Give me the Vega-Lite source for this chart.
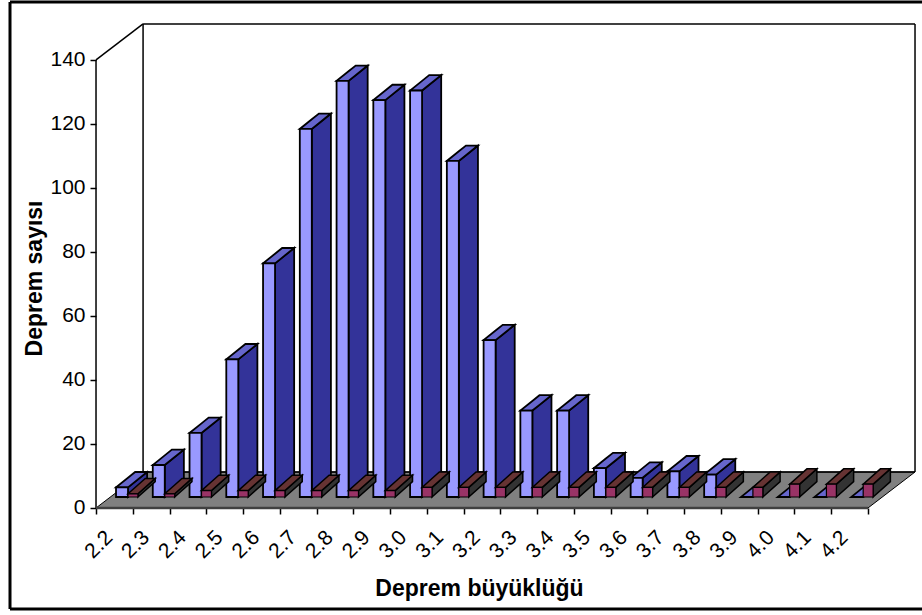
{
  "$schema": "https://vega.github.io/schema/vega-lite/v6.json",
  "width": 912,
  "height": 607,
  "autosize": "none",
  "padding": {"left": 10, "top": 2, "right": 0, "bottom": 6},
  "background": "white",
  "view": {"stroke": null},
  "config": {"font": "Liberation Sans"},
  "data": {"values": [
    {"sira": 0, "buyukluk": "2.2", "seri": "A", "sayi": 3},
    {"sira": 1, "buyukluk": "2.3", "seri": "A", "sayi": 10},
    {"sira": 2, "buyukluk": "2.4", "seri": "A", "sayi": 20},
    {"sira": 3, "buyukluk": "2.5", "seri": "A", "sayi": 43},
    {"sira": 4, "buyukluk": "2.6", "seri": "A", "sayi": 73},
    {"sira": 5, "buyukluk": "2.7", "seri": "A", "sayi": 115},
    {"sira": 6, "buyukluk": "2.8", "seri": "A", "sayi": 130},
    {"sira": 7, "buyukluk": "2.9", "seri": "A", "sayi": 124},
    {"sira": 8, "buyukluk": "3.0", "seri": "A", "sayi": 127},
    {"sira": 9, "buyukluk": "3.1", "seri": "A", "sayi": 105},
    {"sira": 10, "buyukluk": "3.2", "seri": "A", "sayi": 49},
    {"sira": 11, "buyukluk": "3.3", "seri": "A", "sayi": 27},
    {"sira": 12, "buyukluk": "3.4", "seri": "A", "sayi": 27},
    {"sira": 13, "buyukluk": "3.5", "seri": "A", "sayi": 9},
    {"sira": 14, "buyukluk": "3.6", "seri": "A", "sayi": 6},
    {"sira": 15, "buyukluk": "3.7", "seri": "A", "sayi": 8},
    {"sira": 16, "buyukluk": "3.8", "seri": "A", "sayi": 7},
    {"sira": 17, "buyukluk": "3.9", "seri": "A", "sayi": 0},
    {"sira": 18, "buyukluk": "4.0", "seri": "A", "sayi": 0},
    {"sira": 19, "buyukluk": "4.1", "seri": "A", "sayi": 0},
    {"sira": 20, "buyukluk": "4.2", "seri": "A", "sayi": 0},
    {"sira": 0, "buyukluk": "2.2", "seri": "B", "sayi": 1},
    {"sira": 1, "buyukluk": "2.3", "seri": "B", "sayi": 1},
    {"sira": 2, "buyukluk": "2.4", "seri": "B", "sayi": 2},
    {"sira": 3, "buyukluk": "2.5", "seri": "B", "sayi": 2},
    {"sira": 4, "buyukluk": "2.6", "seri": "B", "sayi": 2},
    {"sira": 5, "buyukluk": "2.7", "seri": "B", "sayi": 2},
    {"sira": 6, "buyukluk": "2.8", "seri": "B", "sayi": 2},
    {"sira": 7, "buyukluk": "2.9", "seri": "B", "sayi": 2},
    {"sira": 8, "buyukluk": "3.0", "seri": "B", "sayi": 3},
    {"sira": 9, "buyukluk": "3.1", "seri": "B", "sayi": 3},
    {"sira": 10, "buyukluk": "3.2", "seri": "B", "sayi": 3},
    {"sira": 11, "buyukluk": "3.3", "seri": "B", "sayi": 3},
    {"sira": 12, "buyukluk": "3.4", "seri": "B", "sayi": 3},
    {"sira": 13, "buyukluk": "3.5", "seri": "B", "sayi": 3},
    {"sira": 14, "buyukluk": "3.6", "seri": "B", "sayi": 3},
    {"sira": 15, "buyukluk": "3.7", "seri": "B", "sayi": 3},
    {"sira": 16, "buyukluk": "3.8", "seri": "B", "sayi": 3},
    {"sira": 17, "buyukluk": "3.9", "seri": "B", "sayi": 3},
    {"sira": 18, "buyukluk": "4.0", "seri": "B", "sayi": 4},
    {"sira": 19, "buyukluk": "4.1", "seri": "B", "sayi": 4},
    {"sira": 20, "buyukluk": "4.2", "seri": "B", "sayi": 4}
  ]},
  "transform": [
    {"calculate": "datum.sira + (datum.seri === 'A' ? 0.544 : 0.87)", "as": "xSol"},
    {"calculate": "datum.sira + (datum.seri === 'A' ? 0.87 : 1.14)", "as": "xSag"},
    {"calculate": "datum.seri === 'A' ? 0.52 : 0.47", "as": "derinlik"},
    {"calculate": "3.44", "as": "taban"},
    {"calculate": "3.44 + datum.sayi", "as": "tepe"}
  ],
  "encoding": {
    "x": {
      "field": "x",
      "type": "quantitative",
      "scale": {"domain": [-2.34, 22.47], "nice": false, "zero": false},
      "axis": {
        "title": "Deprem büyüklüğü",
        "titleFont": "Liberation Sans",
        "titleFontSize": 23,
        "titleFontWeight": "bold",
        "titleColor": "#000000",
        "titleX": 469,
        "titleY": 69,
        "offset": -101,
        "domain": false,
        "grid": false,
        "values": [0, 1, 2, 3, 4, 5, 6, 7, 8, 9, 10, 11, 12, 13, 14, 15, 16, 17, 18, 19, 20, 21],
        "labelExpr": "datum.value < 21 ? ['2.2','2.3','2.4','2.5','2.6','2.7','2.8','2.9','3.0','3.1','3.2','3.3','3.4','3.5','3.6','3.7','3.8','3.9','4.0','4.1','4.2'][datum.value] : ''",
        "labelAngle": -45,
        "labelAlign": "right",
        "labelBaseline": "middle",
        "labelOffset": 13,
        "labelPadding": 20,
        "labelFontSize": 21,
        "labelColor": "#000000",
        "labelOverlap": false,
        "labelFlush": false,
        "labelBound": false,
        "tickSize": 6,
        "tickWidth": 1.5,
        "tickColor": "#000000"
      }
    },
    "y": {
      "field": "y",
      "type": "quantitative",
      "scale": {"domain": [-31.56, 158.1], "nice": false, "zero": false},
      "axis": {
        "title": "Deprem sayısı",
        "titleFont": "Liberation Sans",
        "titleFontSize": 23,
        "titleFontWeight": "bold",
        "titleColor": "#000000",
        "titleX": -50,
        "titleY": 276,
        "offset": -86,
        "domain": false,
        "grid": false,
        "values": [0, 20, 40, 60, 80, 100, 120, 140],
        "labelFontSize": 21,
        "labelColor": "#000000",
        "labelPadding": 5,
        "labelOverlap": false,
        "labelBound": false,
        "tickSize": 6,
        "tickWidth": 1.5,
        "tickColor": "#000000"
      }
    }
  },
  "layer": [
    {
      "description": "Floor of the 3D box",
      "data": {"values": [
        {"x": 0, "y": 0, "y2": 0},
        {"x": 1.28, "y": 0, "y2": 11.25},
        {"x": 21, "y": 0, "y2": 11.25},
        {"x": 22.28, "y": 11.25, "y2": 11.25}
      ]},
      "transform": [],
      "mark": {"type": "area", "color": "#808080", "stroke": "#000000", "strokeWidth": 1},
      "encoding": {"y2": {"field": "y2"}}
    },
    {
      "description": "Box edges and value axis line",
      "data": {"values": [
        {"x": 0, "y": 0, "x2": 0, "y2": 140},
        {"x": 0, "y": 140, "x2": 1.28, "y2": 151.25},
        {"x": 1.28, "y": 11.25, "x2": 1.28, "y2": 151.25},
        {"x": 1.28, "y": 151.25, "x2": 22.28, "y2": 151.25},
        {"x": 22.28, "y": 11.25, "x2": 22.28, "y2": 151.25},
        {"x": 1.28, "y": 11.25, "x2": 22.28, "y2": 11.25}
      ]},
      "transform": [],
      "mark": {"type": "rule", "color": "#000000", "strokeWidth": 1.5},
      "encoding": {"x2": {"field": "x2"}, "y2": {"field": "y2"}}
    },
    {
      "description": "Thick front edge of the floor",
      "data": {"values": [{"x": 0, "y": 0, "x2": 21, "y2": 0}]},
      "transform": [],
      "mark": {"type": "rule", "color": "#404040", "strokeWidth": 2.5},
      "encoding": {"x2": {"field": "x2"}, "y2": {"field": "y2"}}
    },
    {
      "description": "Outer frame of the chart",
      "data": {"values": [
        {"x": -2.34, "y": 158.1, "x2": 22.47, "y2": 158.1},
        {"x": -2.34, "y": -31.56, "x2": 22.47, "y2": -31.56},
        {"x": -2.34, "y": -31.56, "x2": -2.34, "y2": 158.1}
      ]},
      "transform": [],
      "mark": {"type": "rule", "color": "#000000", "strokeWidth": 3},
      "encoding": {"x2": {"field": "x2"}, "y2": {"field": "y2"}}
    },
    {
      "description": "Series A: side face",
      "transform": [
        {"filter": "datum.seri === 'A'"},
        {"calculate": "[0, 1]", "as": "t"},
        {"flatten": ["t"]},
        {"calculate": "datum.xSag + datum.t * datum.derinlik", "as": "x"},
        {"calculate": "datum.taban + datum.t * 4.8", "as": "y"},
        {"calculate": "datum.tepe + datum.t * 4.8", "as": "y2"}
      ],
      "mark": {"type": "area", "color": "#333399", "stroke": "#000000", "strokeWidth": 1.8},
      "encoding": {"y2": {"field": "y2"}, "detail": {"field": "sira"}}
    },
    {
      "description": "Series A: top face, split at its corners so it can be an x-ordered area",
      "transform": [
        {"filter": "datum.seri === 'A'"},
        {"calculate": "[0, 1, 2, 3]", "as": "t"},
        {"flatten": ["t"]},
        {"calculate": "[datum.xSol, min(datum.xSag, datum.xSol + datum.derinlik), max(datum.xSag, datum.xSol + datum.derinlik), datum.xSag + datum.derinlik][datum.t]", "as": "x"},
        {"calculate": "datum.tepe + max(0, datum.x - datum.xSag) * 4.8 / datum.derinlik", "as": "y"},
        {"calculate": "datum.tepe + min(datum.x - datum.xSol, datum.derinlik) * 4.8 / datum.derinlik", "as": "y2"}
      ],
      "mark": {"type": "area", "color": "#6666CC", "stroke": "#000000", "strokeWidth": 1.8},
      "encoding": {"y2": {"field": "y2"}, "detail": {"field": "sira"}}
    },
    {
      "description": "Series A: front face",
      "transform": [
        {"filter": "datum.seri === 'A'"},
        {"calculate": "datum.xSol", "as": "x"},
        {"calculate": "datum.xSag", "as": "x2"},
        {"calculate": "datum.tepe", "as": "y"},
        {"calculate": "datum.taban", "as": "y2"}
      ],
      "mark": {"type": "rect", "color": "#9999FF", "stroke": "#000000", "strokeWidth": 1.8},
      "encoding": {"x2": {"field": "x2"}, "y2": {"field": "y2"}}
    },
    {
      "description": "Series B: side face",
      "transform": [
        {"filter": "datum.seri === 'B'"},
        {"calculate": "[0, 1]", "as": "t"},
        {"flatten": ["t"]},
        {"calculate": "datum.xSag + datum.t * datum.derinlik", "as": "x"},
        {"calculate": "datum.taban + datum.t * 4.8", "as": "y"},
        {"calculate": "datum.tepe + datum.t * 4.8", "as": "y2"}
      ],
      "mark": {"type": "area", "color": "#333333", "stroke": "#000000", "strokeWidth": 1.5},
      "encoding": {"y2": {"field": "y2"}, "detail": {"field": "sira"}}
    },
    {
      "description": "Series B: top face, split at its corners so it can be an x-ordered area",
      "transform": [
        {"filter": "datum.seri === 'B'"},
        {"calculate": "[0, 1, 2, 3]", "as": "t"},
        {"flatten": ["t"]},
        {"calculate": "[datum.xSol, min(datum.xSag, datum.xSol + datum.derinlik), max(datum.xSag, datum.xSol + datum.derinlik), datum.xSag + datum.derinlik][datum.t]", "as": "x"},
        {"calculate": "datum.tepe + max(0, datum.x - datum.xSag) * 4.8 / datum.derinlik", "as": "y"},
        {"calculate": "datum.tepe + min(datum.x - datum.xSol, datum.derinlik) * 4.8 / datum.derinlik", "as": "y2"}
      ],
      "mark": {"type": "area", "color": "#663333", "stroke": "#000000", "strokeWidth": 1.5},
      "encoding": {"y2": {"field": "y2"}, "detail": {"field": "sira"}}
    },
    {
      "description": "Series B: front face",
      "transform": [
        {"filter": "datum.seri === 'B'"},
        {"calculate": "datum.xSol", "as": "x"},
        {"calculate": "datum.xSag", "as": "x2"},
        {"calculate": "datum.tepe", "as": "y"},
        {"calculate": "datum.taban", "as": "y2"}
      ],
      "mark": {"type": "rect", "color": "#993366", "stroke": "#000000", "strokeWidth": 1.2},
      "encoding": {"x2": {"field": "x2"}, "y2": {"field": "y2"}}
    }
  ]
}
